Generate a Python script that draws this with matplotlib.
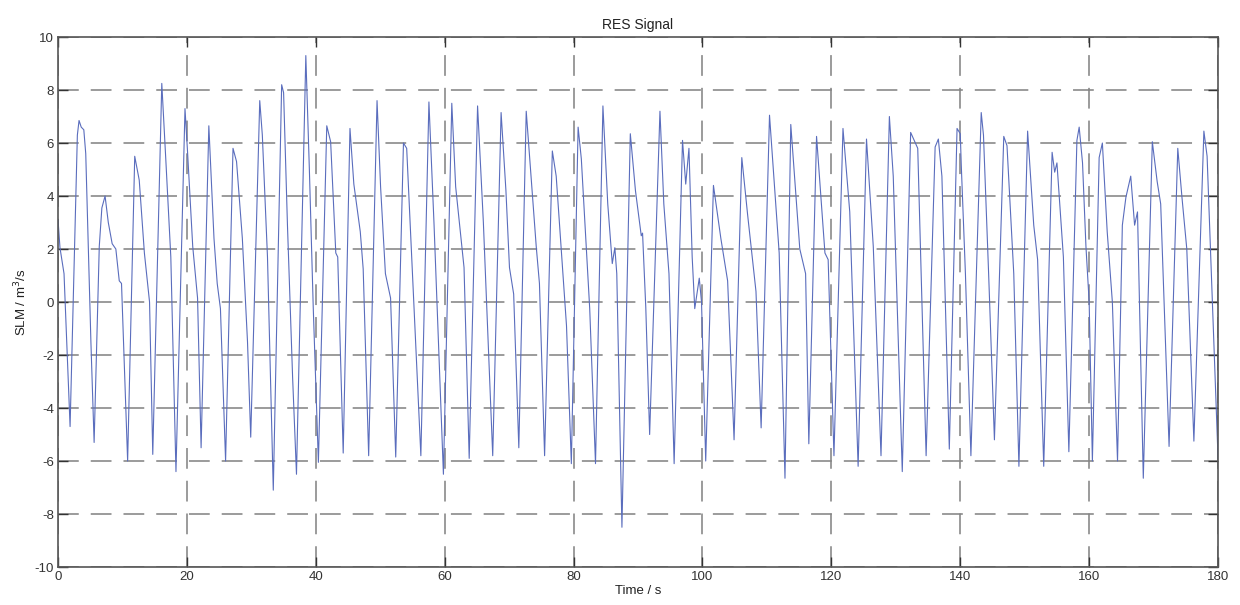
import matplotlib
matplotlib.use("Agg")
import matplotlib.pyplot as plt

# keypoints of the breathing trace (time in s, flow value)
time_s = [
    0.0, 0.3, 0.93, 1.87, 3.0, 3.26, 3.6, 4.0, 4.3, 4.66, 5.1, 5.6,
    6.4, 6.8, 7.3, 7.8, 8.4, 8.97, 9.5, 9.85, 10.8,
    11.9, 12.6, 13.4, 14.2, 14.7,
    16.1, 16.75, 17.5, 18.3,
    19.7, 20.1, 20.9, 21.65, 22.2,
    23.4, 24.2, 24.7, 25.2, 26.0,
    27.15, 27.7, 28.6, 29.4, 29.9,
    31.3, 31.7, 32.5, 33.4,
    34.7, 35.0, 35.6, 36.4, 37.0,
    38.45, 39.0, 39.6, 40.4,
    41.7, 42.3, 43.1, 43.4, 44.25,
    45.3, 45.9, 46.9, 47.35, 48.2,
    49.5, 50.05, 50.8, 51.6, 52.4,
    53.6, 54.1, 55.0, 56.3,
    57.55, 58.35, 59.8,
    61.1, 61.7, 63.0, 63.8,
    65.1, 66.0, 67.45,
    68.75, 69.5, 70.05, 70.7, 71.5,
    72.65, 73.4, 74.2, 74.7, 75.5,
    76.7, 77.3, 78.9, 79.65,
    80.7, 81.2, 82.5, 83.4,
    84.55, 85.3, 86.0, 86.4, 86.7, 87.5,
    88.8, 89.6, 90.5, 90.7, 91.2, 91.8,
    93.4, 94.0, 94.8, 95.6,
    96.9, 97.4, 97.9, 98.4, 98.8, 99.5, 99.85, 100.5,
    101.7, 102.85, 103.9, 104.9,
    106.1, 107.0, 108.3, 109.1,
    110.4, 111.9, 112.8,
    113.7, 115.1, 116.0, 116.5,
    117.7, 119.0, 119.5, 120.4,
    121.8, 122.85, 124.15,
    125.45, 126.5, 127.7,
    129.0, 129.6, 131.0,
    132.3, 133.4, 134.7,
    136.1, 136.6, 137.15, 138.3,
    139.5, 140.0, 140.15, 140.8, 141.65,
    143.25, 143.6, 144.4, 145.3,
    146.75, 147.25, 148.3, 149.1,
    150.45, 151.4, 152.0, 152.95,
    154.25, 154.65, 155.0, 156.0, 156.85,
    158.1, 158.45, 158.97, 159.5, 160.0, 160.5,
    161.55, 162.05, 162.8, 163.6, 164.4,
    165.15, 165.7, 166.45, 167.05, 167.5, 168.4,
    169.8, 170.55, 171.1, 172.4,
    173.75, 174.4, 175.15, 176.25,
    177.8, 178.3, 180.0,
]
flow = [
    3.1, 2.05, 1.07, -4.7, 6.3, 6.85, 6.6, 6.5, 5.6, 2.4, -1.5, -5.3,
    2.1, 3.55, 4.0, 3.0, 2.2, 2.0, 0.8, 0.7, -6.0,
    5.5, 4.6, 1.85, 0.0, -5.75,
    8.25, 5.25, 1.7, -6.4,
    7.3, 5.65, 2.1, 0.15, -5.5,
    6.65, 2.4, 0.7, -0.25, -6.0,
    5.8, 5.3, 2.4, -1.5, -5.1,
    7.6, 6.3, 1.7, -7.1,
    8.2, 7.9, 2.9, -2.85, -6.5,
    9.3, 5.0, -0.2, -6.05,
    6.65, 6.05, 1.85, 1.7, -5.7,
    6.55, 4.45, 2.65, 1.25, -5.8,
    7.6, 4.35, 1.07, 0.15, -5.85,
    6.0, 5.8, 1.05, -5.8,
    7.55, 2.9, -6.5,
    7.5, 4.35, 1.3, -5.9,
    7.4, 3.0, -5.8,
    7.15, 4.2, 1.3, 0.3, -5.5,
    7.2, 4.75, 2.1, 0.7, -5.8,
    5.7, 4.75, -0.9, -6.1,
    6.6, 5.4, -0.25, -6.1,
    7.4, 3.7, 1.45, 2.05, 1.07, -8.5,
    6.35, 4.2, 2.5, 2.6, -0.2, -5.0,
    7.2, 3.7, 1.07, -6.1,
    6.1, 4.45, 5.8, 1.7, -0.25, 0.9, 0.0, -6.0,
    4.4, 2.4, 0.8, -5.2,
    5.45, 3.3, 0.4, -4.75,
    7.05, 1.85, -6.65,
    6.7, 2.0, 1.07, -5.35,
    6.25, 1.85, 1.6, -5.8,
    6.55, 3.4, -6.2,
    6.15, 2.1, -5.8,
    7.0, 4.75, -6.4,
    6.4, 5.8, -5.8,
    5.85, 6.15, 4.75, -5.55,
    6.55, 6.35, 5.2, 1.07, -5.8,
    7.15, 6.3, 1.07, -5.2,
    6.25, 5.9, 1.07, -6.2,
    6.45, 2.9, 1.6, -6.2,
    5.65, 4.9, 5.25, 1.7, -5.65,
    6.1, 6.6, 5.25, 2.1, 0.0, -6.0,
    5.45, 6.0, 2.65, 0.0, -6.0,
    2.9, 3.95, 4.75, 2.9, 3.4, -6.65,
    6.05, 4.55, 3.7, -5.45,
    5.8, 3.95, 2.0, -5.25,
    6.45, 5.5, -5.9,
]

x_ticks = list(range(0, 181, 20))
y_ticks = list(range(-10, 11, 2))

plt.rcParams['font.family'] = ['Liberation Sans', 'DejaVu Sans']
plt.rcParams['axes.unicode_minus'] = False

fig = plt.figure(figsize=(12.4, 6.05), dpi=100)
ax = fig.add_axes([0.0468, 0.0628, 0.9355, 0.876])

ax.plot(time_s, flow, color='#5a6dbd', linewidth=0.8)

ax.set_xlim(0, 180)
ax.set_ylim(-10, 10)
ax.set_xticks(x_ticks)
ax.set_yticks(y_ticks)
# long MATLAB-style dashes
ax.grid(True, color='#858585', linestyle=(0, (13, 7.5)), linewidth=1.15)
ax.tick_params(direction='in', length=7, width=1, top=True, right=True,
               labelsize=9.5, colors='#333333', pad=3)
for side in ax.spines.values():
    side.set_color('#555555')
    side.set_linewidth(1.2)

ax.set_title('RES Signal', fontsize=10, color='#222222', pad=6)
ax.set_xlabel('Time / s', fontsize=9.5, color='#222222', labelpad=1)
ax.set_ylabel('SLM / m$^3$/s', fontsize=9.5, color='#222222', labelpad=4)

fig.savefig('out.png', dpi=100, facecolor='white')
